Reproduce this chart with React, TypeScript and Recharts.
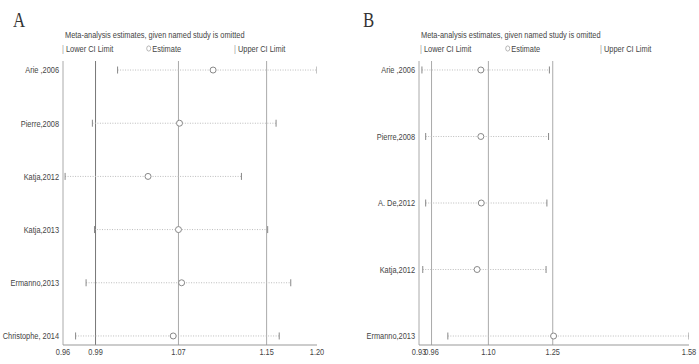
import React from 'react';
import { ScatterChart, Scatter, XAxis, YAxis, ReferenceLine } from 'recharts';

// panel A
const studiesA = ['Arie ,2006', 'Pierre,2008', 'Katja,2012', 'Katja,2013', 'Ermanno,2013', 'Christophe, 2014'];
const lowerA = [1.012, 0.988, 0.962, 0.990, 0.982, 0.972];
const estA = [1.103, 1.071, 1.041, 1.070, 1.073, 1.065];
const upperA = [1.202, 1.163, 1.130, 1.155, 1.177, 1.166];
const ticksA = [0.96, 0.991, 1.07, 1.154, 1.202];

// panel B
const studiesB = ['Arie ,2006', 'Pierre,2008', 'A. De,2012', 'Katja,2012', 'Ermanno,2013'];
const lowerB = [0.937, 0.946, 0.946, 0.939, 0.999];
const estB = [1.078, 1.078, 1.079, 1.069, 1.252];
const upperB = [1.242, 1.240, 1.236, 1.234, 1.576];
const ticksB = [0.93, 0.96, 1.096, 1.25, 1.576];

const FONT = '"Liberation Sans", Arial, sans-serif';
const SQUEEZE = 0.78;

const CapMark = (props: any) => (
  <line x1={props.cx} x2={props.cx} y1={props.cy - 3.5} y2={props.cy + 3.5} stroke="#888" strokeWidth={1} />
);

const EstMark = (props: any) => (
  <circle cx={props.cx} cy={props.cy} r={3} fill="#fff" stroke="#888" strokeWidth={1} />
);

// narrow text, the source uses a condensed face
const NarrowTick = (props: any) => {
  const { x, y, payload, labels, anchor, dy } = props;
  const label = labels ? labels[payload.value] ?? '' : Number(payload.value).toFixed(2);
  return (
    <text
      transform={`translate(${x},${y}) scale(${SQUEEZE},1)`}
      textAnchor={anchor}
      dy={dy}
      fontFamily={FONT}
      fontSize={9.5}
      fill="#444"
    >
      {label}
    </text>
  );
};

const txt: React.CSSProperties = {
  position: 'absolute',
  fontFamily: FONT,
  fontSize: 9.5,
  color: '#444',
  whiteSpace: 'nowrap',
  transform: `scaleX(${SQUEEZE})`,
  transformOrigin: 'left top',
  lineHeight: '11px',
};

type PanelProps = {
  letter: string;
  studies: string[];
  lower: number[];
  est: number[];
  upper: number[];
  ticks: number[];
  left: number;
  width: number;
  yPad: number;
  yAxisWidth: number;
  rightMargin: number;
  legendX: number[];
};

const Panel = ({ letter, studies, lower, est, upper, ticks, left, width, yPad, yAxisWidth, rightMargin, legendX }: PanelProps) => {
  const lowPts = studies.map((s, i) => ({ x: lower[i], y: i }));
  const estPts = studies.map((s, i) => ({ x: est[i], y: i }));
  const upPts = studies.map((s, i) => ({ x: upper[i], y: i }));
  const n = studies.length;
  const plotLeft = left + 3 + yAxisWidth;
  return (
    <>
      <div style={{ position: 'absolute', left: left + 13, top: 8, fontFamily: '"Liberation Serif", serif', fontSize: 21, color: '#333', transform: 'scaleX(0.8)', transformOrigin: 'left top' }}>
        {letter}
      </div>
      <div style={{ ...txt, left: plotLeft + 2, top: 29 }}>
        Meta-analysis estimates, given named study is omitted
      </div>
      <div style={{ ...txt, left: legendX[0], top: 43 }}>
        <span style={{ color: '#999' }}>|</span> Lower CI Limit
      </div>
      <div style={{ ...txt, left: legendX[1], top: 43 }}>
        <svg width={7} height={7} style={{ marginRight: 1 }}>
          <circle cx={3.5} cy={3.5} r={2.6} fill="none" stroke="#999" strokeWidth={0.8} />
        </svg>
        Estimate
      </div>
      <div style={{ ...txt, left: legendX[2], top: 43 }}>
        <span style={{ color: '#999' }}>|</span> Upper CI Limit
      </div>
      <div style={{ position: 'absolute', left, top: 0 }}>
        <ScatterChart width={width} height={364} margin={{ top: 61, right: rightMargin, bottom: 2, left: 3 }} style={{ overflow: 'visible' }}>
          <XAxis
            type="number"
            dataKey="x"
            domain={[ticks[0], ticks[ticks.length - 1]]}
            ticks={ticks}
            interval={0}
            allowDataOverflow
            tickLine={false}
            tickSize={0}
            tickMargin={3}
            height={17}
            axisLine={{ stroke: '#999' }}
            tick={<NarrowTick anchor="middle" dy="0.75em" />}
          />
          <YAxis
            type="number"
            dataKey="y"
            reversed
            domain={[-yPad, n - 1 + yPad]}
            ticks={studies.map((s, i) => i)}
            interval={0}
            allowDataOverflow
            tickLine={false}
            axisLine={false}
            tickSize={0}
            tickMargin={4}
            width={yAxisWidth}
            tick={<NarrowTick anchor="end" dy="0.35em" labels={studies} />}
          />
          {ticks.slice(0, ticks.length - 1).map((t, i) => (
            <ReferenceLine key={'v' + i} x={t} stroke={i === 1 && letter === 'A' ? '#777' : '#aaa'} strokeWidth={1} ifOverflow="visible" />
          ))}
          {studies.map((s, i) => (
            <ReferenceLine
              key={'ci' + i}
              segment={[{ x: lower[i], y: i }, { x: upper[i], y: i }]}
              stroke="#bbb"
              strokeDasharray="1 1.5"
              ifOverflow="visible"
            />
          ))}
          <Scatter data={lowPts} shape={CapMark} isAnimationActive={false} />
          <Scatter data={upPts} shape={CapMark} isAnimationActive={false} />
          <Scatter data={estPts} shape={EstMark} isAnimationActive={false} />
        </ScatterChart>
      </div>
    </>
  );
};

export default function App() {
  return (
    <div style={{ position: 'absolute', left: 0, top: 0, width: 699, height: 364, background: '#fff', overflow: 'hidden' }}>
      <Panel
        letter="A"
        studies={studiesA}
        lower={lowerA}
        est={estA}
        upper={upperA}
        ticks={ticksA}
        left={0}
        width={350}
        yPad={0.17}
        yAxisWidth={60}
        rightMargin={33}
        legendX={[62, 146, 234]}
      />
      <Panel
        letter="B"
        studies={studiesB}
        lower={lowerB}
        est={estB}
        upper={upperB}
        ticks={ticksB}
        left={350}
        width={349}
        yPad={0.135}
        yAxisWidth={66}
        rightMargin={10}
        legendX={[420, 505, 600]}
      />
    </div>
  );
}
